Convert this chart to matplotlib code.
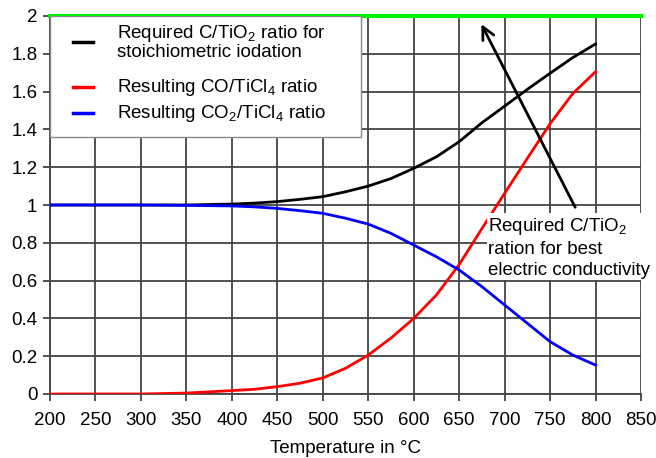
import matplotlib
matplotlib.use("Agg")
import matplotlib.pyplot as plt
from matplotlib.patches import Rectangle
from matplotlib.lines import Line2D

plt.rcParams['font.family'] = ['Liberation Sans', 'DejaVu Sans']
plt.rcParams['mathtext.fontset'] = 'custom'
plt.rcParams['mathtext.rm'] = 'Liberation Sans'
plt.rcParams['mathtext.it'] = 'Liberation Sans'

# temperatures in degC
temp = [200, 250, 300, 350, 400, 425, 450, 475, 500, 525, 550, 575, 600,
        625, 650, 675, 700, 725, 750, 775, 800]
# required C/TiO2 ratio (black)
c_ratio = [1.0, 1.0, 1.0, 1.0, 1.005, 1.01, 1.018, 1.03, 1.044, 1.07, 1.10,
           1.14, 1.194, 1.255, 1.335, 1.435, 1.523, 1.612, 1.697, 1.78, 1.852]
# CO/TiCl4 (red)
co_ratio = [0.0, 0.0, 0.0, 0.005, 0.018, 0.025, 0.039, 0.057, 0.085, 0.136,
            0.206, 0.296, 0.40, 0.524, 0.685, 0.875, 1.062, 1.247, 1.43,
            1.59, 1.705]
# CO2/TiCl4 (blue)
co2_ratio = [1.0, 1.0, 1.0, 0.998, 0.995, 0.99, 0.982, 0.97, 0.956, 0.93,
             0.899, 0.85, 0.788, 0.726, 0.656, 0.568, 0.471, 0.374, 0.277,
             0.206, 0.153]

best_ratio = 2.0
xticks = list(range(200, 851, 50))
yticks = [0, 0.2, 0.4, 0.6, 0.8, 1, 1.2, 1.4, 1.6, 1.8, 2]
ytick_labels = ['0', '0.2', '0.4', '0.6', '0.8', '1', '1.2', '1.4', '1.6', '1.8', '2']

fig = plt.figure(figsize=(6.56, 4.58), dpi=100)
ax = fig.add_axes([50/656, 1 - 394/458, 591/656, 378/458])

grid_col = '#444444'
ax.set_xlim(200, 850)
ax.set_ylim(0, 2)
ax.set_xticks(xticks)
ax.set_yticks(yticks)
ax.set_yticklabels(ytick_labels)
ax.grid(True, color=grid_col, linewidth=1.3)
ax.set_axisbelow(True)
for s in ['top', 'right']:
    ax.spines[s].set_visible(False)
for s in ['left', 'bottom']:
    ax.spines[s].set_color(grid_col)
    ax.spines[s].set_linewidth(1.3)
ax.tick_params(axis='both', labelsize=13.5, color=grid_col, width=1.3, length=5,
               direction='out', pad=4)
ax.tick_params(axis='x', pad=8)
ax.set_xlabel('Temperature in °C', fontsize=13.5, labelpad=8)

ax.axhline(best_ratio, color='#00ee00', linewidth=3, zorder=5, clip_on=False)
ax.plot(temp, c_ratio, color='black', linewidth=2, zorder=4)
ax.plot(temp, co_ratio, color='red', linewidth=2, zorder=4)
ax.plot(temp, co2_ratio, color='blue', linewidth=2, zorder=4)

ax.annotate('', xy=(673, 1.97), xytext=(779, 0.975),
            arrowprops=dict(arrowstyle='->', color='black', lw=2,
                            mutation_scale=22), zorder=6)
ax.text(682, 0.94, 'Required C/TiO$_2$\nration for best\nelectric conductivity',
        fontsize=13.5, va='top', ha='left', linespacing=1.3, zorder=7,
        bbox=dict(facecolor='white', edgecolor='none', pad=1), clip_on=False)

# legend drawn by hand to match the uneven spacing
ax.add_patch(Rectangle((0, 0.680), 0.526, 0.32, transform=ax.transAxes,
                       facecolor='white', edgecolor='#888888', linewidth=1,
                       zorder=6))
entries = [
    ('black', 'Required C/TiO$_2$ ratio for\nstoichiometric iodation', 0.931),
    ('red', 'Resulting CO/TiCl$_4$ ratio', 0.812),
    ('blue', 'Resulting CO$_2$/TiCl$_4$ ratio', 0.743),
]
for col, lab, yy in entries:
    ax.add_line(Line2D([0.039, 0.073], [yy, yy], color=col, linewidth=2.5,
                       transform=ax.transAxes, zorder=7))
    ax.text(0.113, yy, lab, transform=ax.transAxes, fontsize=13.5, va='center',
            ha='left', linespacing=1.0, zorder=7)

fig.savefig('out.png', dpi=100)
